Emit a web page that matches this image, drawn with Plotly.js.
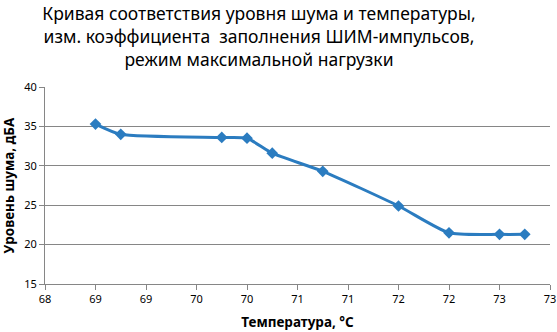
<!DOCTYPE html>
<html>
<head>
<meta charset="utf-8">
<script src="https://cdn.plot.ly/plotly-3.0.1.min.js"></script>
<style>html,body{margin:0;padding:0;background:#fff;}#chart{width:557px;height:332px;}</style>
</head>
<body>
<div id="chart"></div>
<script>
const temperature = [68.5, 68.75, 69.75, 70.0, 70.25, 70.75, 71.5, 72.0, 72.5, 72.75];
const noiseLevel = [35.3, 34.0, 33.6, 33.5, 31.6, 29.3, 24.9, 21.5, 21.3, 21.3];
const xTickVals = [68, 68.5, 69, 69.5, 70, 70.5, 71, 71.5, 72, 72.5, 73];
const xTickText = ['68', '69', '69', '70', '70', '71', '71', '72', '72', '73', '73'];
const yTickVals = [15, 20, 25, 30, 35, 40];

const titleText = 'Кривая соответствия уровня шума и температуры,<br>изм. коэффициента  заполнения ШИМ-импульсов,<br>режим максимальной нагрузки';
const font = 'Noto Sans, DejaVu Sans, sans-serif';
const blue = '#2b7cc0';
const grey = '#868686';

Plotly.newPlot('chart', [{
  x: temperature,
  y: noiseLevel,
  type: 'scatter',
  mode: 'lines+markers',
  line: {color: blue, width: 3, shape: 'spline', smoothing: 0.6},
  marker: {symbol: 'diamond', size: 9, color: blue},
  hoverinfo: 'skip'
}], {
  width: 557, height: 332,
  margin: {l: 45, r: 7, t: 87, b: 48, pad: 0},
  paper_bgcolor: '#fff', plot_bgcolor: '#fff',
  showlegend: false,
  font: {family: font, color: '#000', size: 11},
  title: {
    text: titleText,
    font: {family: font, size: 17.5, color: '#000'},
    x: 0.465, xanchor: 'center', xref: 'container',
    y: 1 - 20/332, yanchor: 'top', yref: 'container'
  },
  xaxis: {
    range: [68, 73],
    tickmode: 'array', tickvals: xTickVals, ticktext: xTickText,
    showgrid: false, zeroline: false,
    showline: true, linecolor: grey, linewidth: 1,
    ticks: 'outside', ticklen: 5, tickcolor: grey,
    tickfont: {family: font, size: 11, color: '#000'},
    title: {text: '<b>Температура, °C</b>', font: {family: font, size: 13.5, color: '#000'}, standoff: 12}
  },
  yaxis: {
    range: [15, 40],
    tickmode: 'array', tickvals: yTickVals,
    showgrid: true, gridcolor: grey, gridwidth: 1,
    zeroline: false,
    showline: true, linecolor: grey, linewidth: 1,
    ticks: 'outside', ticklen: 5, tickcolor: grey,
    tickfont: {family: font, size: 11, color: '#000'},
    title: {text: '<b>Уровень шума, дБА</b>', font: {family: font, size: 13.5, color: '#000'}, standoff: 6}
  }
}, {staticPlot: true, displayModeBar: false});
</script>
</body>
</html>
